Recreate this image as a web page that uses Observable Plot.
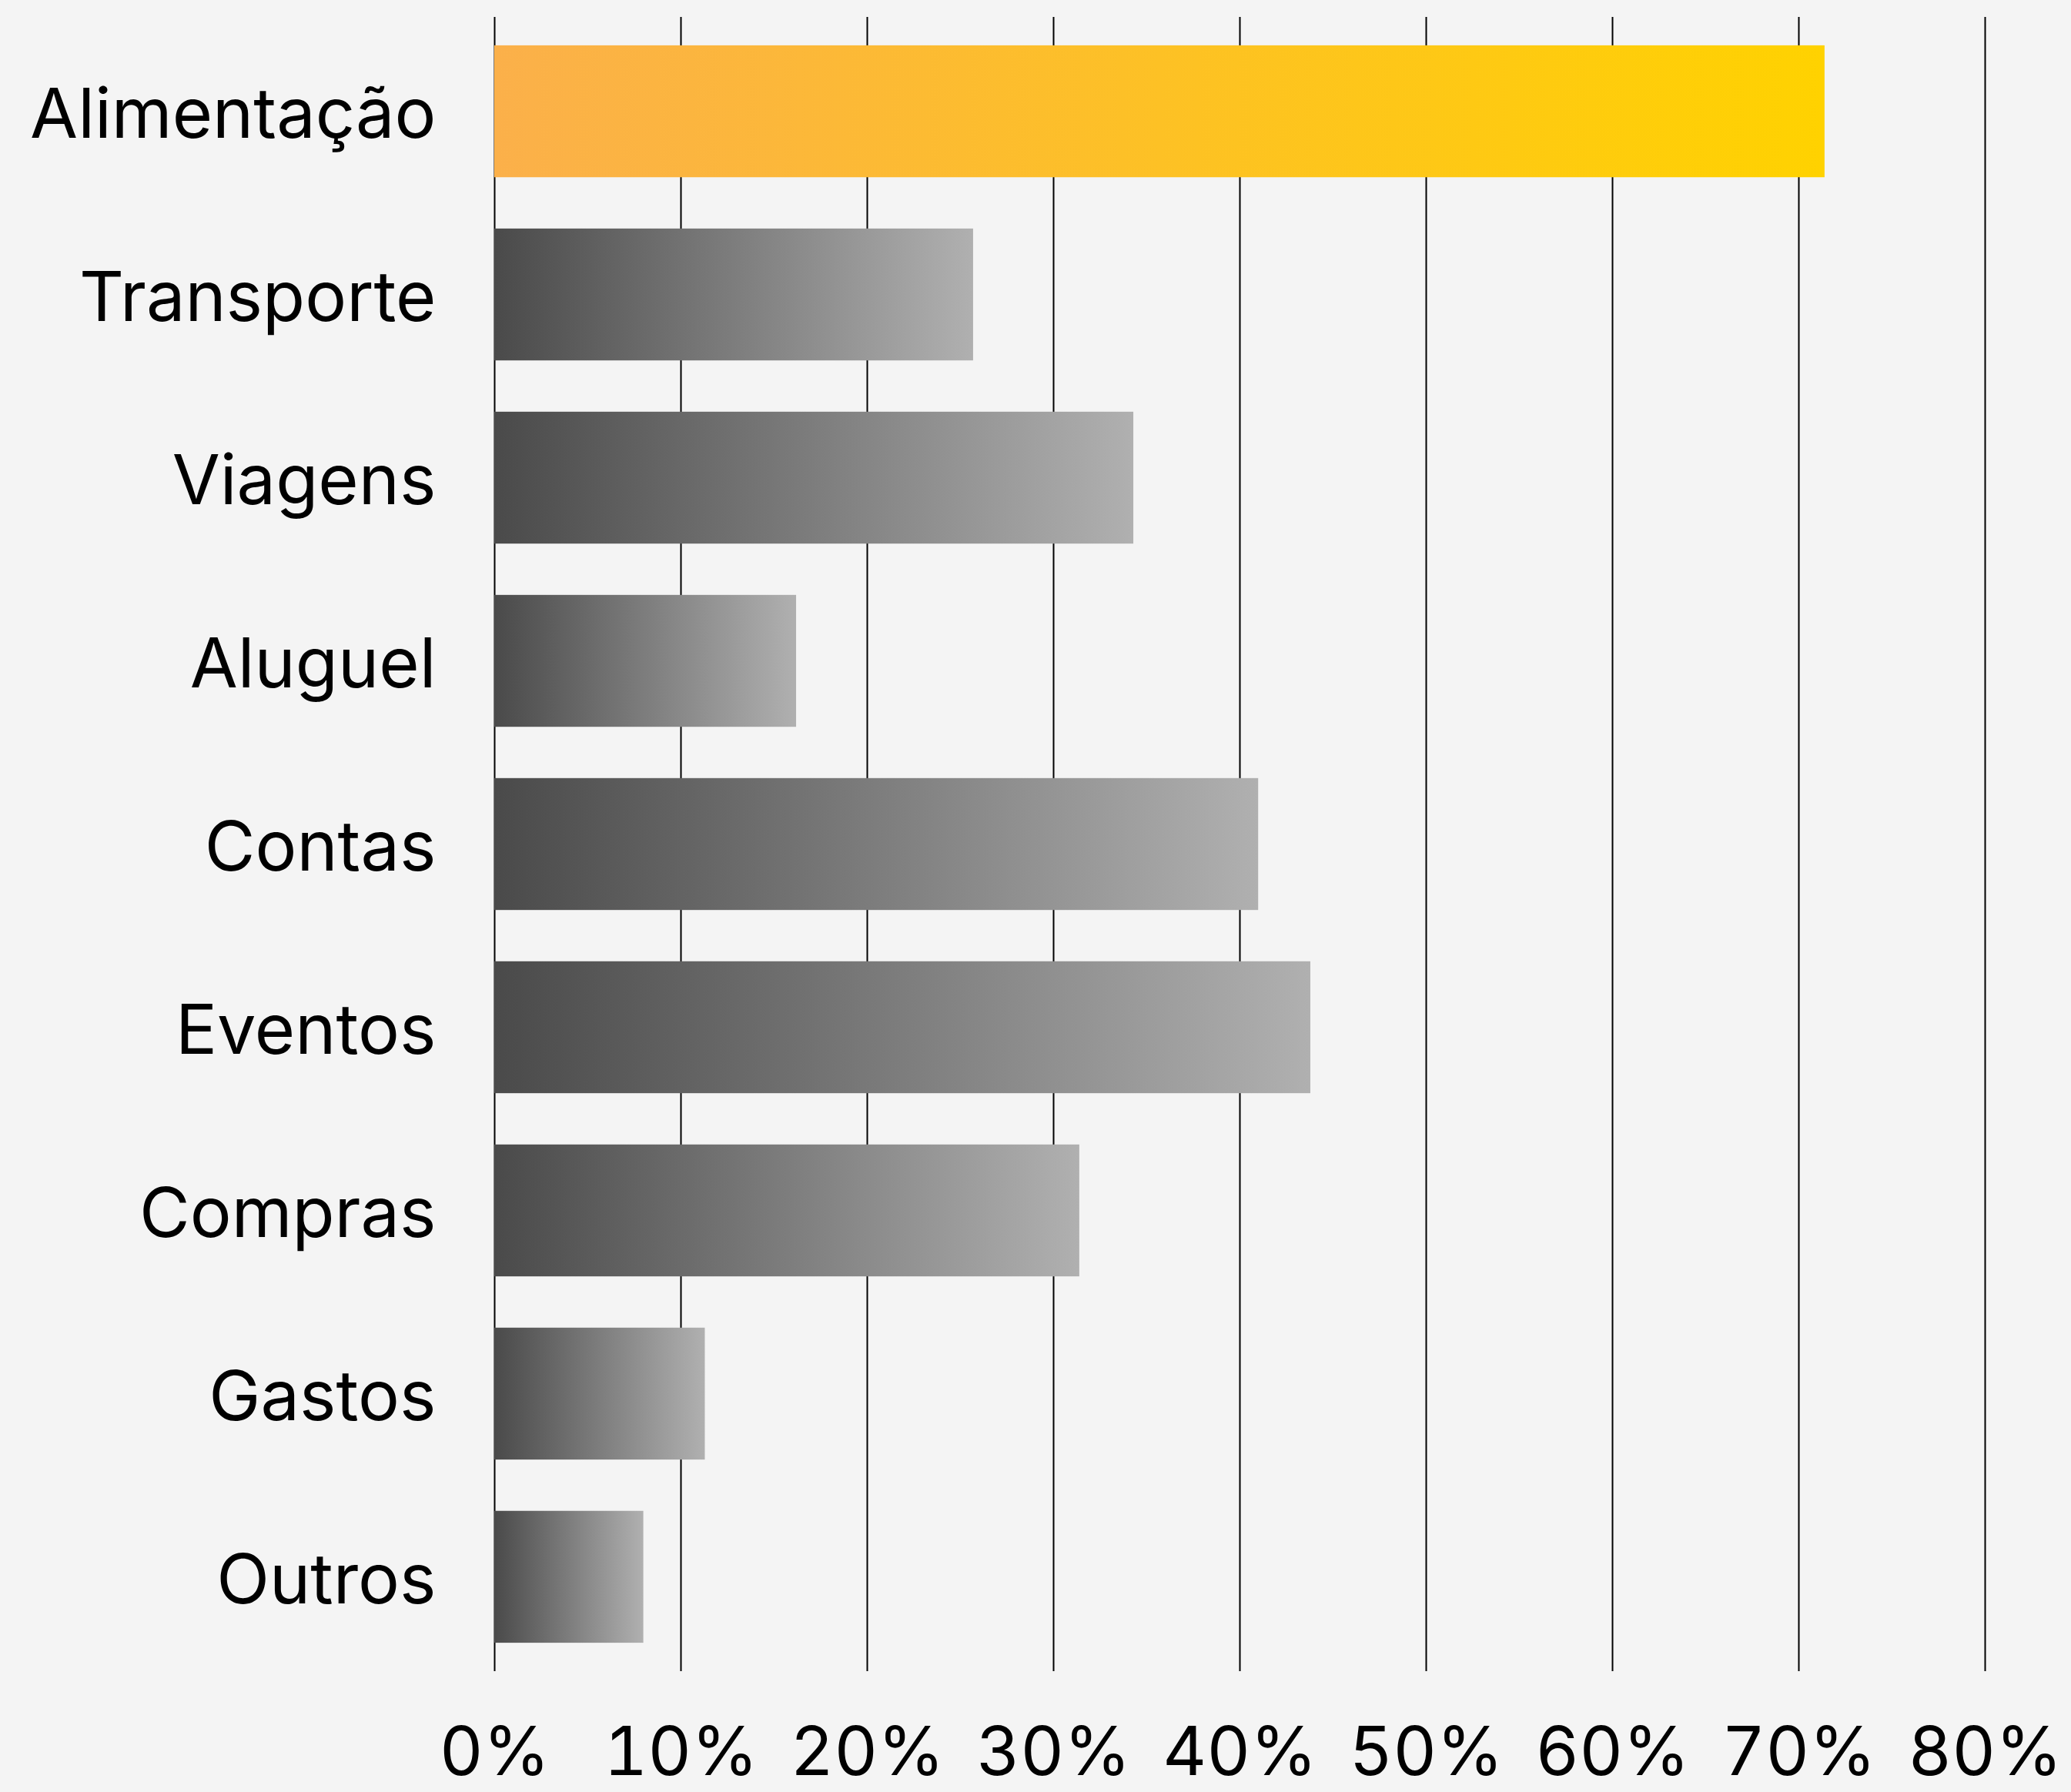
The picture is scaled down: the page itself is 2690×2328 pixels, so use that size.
<!DOCTYPE html>
<html>
<head>
<meta charset="utf-8">
<script src="https://cdn.jsdelivr.net/npm/d3@7"></script>
<script src="https://cdn.jsdelivr.net/npm/@observablehq/plot@0.6"></script>
<style>
  html, body { margin: 0; padding: 0; background: #f4f4f4; }
  #chart svg { display: block; }
</style>
</head>
<body>
<div id="chart"></div>
<script>
const categories = ["Alimentação", "Transporte", "Viagens", "Aluguel", "Contas", "Eventos", "Compras", "Gastos", "Outros"];
const values = [71.4, 25.7, 34.3, 16.2, 41.0, 43.8, 31.4, 11.3, 8.0];
const xTicks = [0, 10, 20, 30, 40, 50, 60, 70, 80];
const highlight = "Alimentação";

const data = categories.map((c, i) => ({category: c, value: values[i]}));

const chart = Plot.plot({
  width: 2690,
  height: 2328,
  marginLeft: 642,
  marginRight: 112,
  marginTop: 22,
  marginBottom: 157,
  style: {background: "transparent", fontFamily: "Inter, 'Noto Sans', sans-serif", fontSize: "88px", color: "#000"},
  x: {domain: [0, 80]},
  y: {domain: categories, paddingInner: 0.28, paddingOuter: 0.155, round: false},
  marks: [
    Plot.gridX(xTicks, {stroke: "#000", strokeOpacity: 1, strokeWidth: 2}),
    Plot.barX(data.filter(d => d.category !== highlight), {x: "value", y: "category", fill: "url(#grayGrad)"}),
    Plot.barX(data.filter(d => d.category === highlight), {x: "value", y: "category", fill: "url(#goldGrad)"}),
    Plot.axisX(xTicks, {tickSize: 0, tickPadding: 72, tickFormat: d => d + "%", label: null, fontSize: 88}),
    Plot.axisY({tickSize: 0, tickPadding: 76, dy: 5, label: null, fontSize: 90})
  ]
});

const defs = d3.select(chart).insert("defs", ":first-child");
const g1 = defs.append("linearGradient").attr("id", "grayGrad").attr("x1", "0").attr("x2", "1").attr("y1", "0").attr("y2", "0");
g1.append("stop").attr("offset", "0%").attr("stop-color", "#4a4a4a");
g1.append("stop").attr("offset", "100%").attr("stop-color", "#b0b0b0");
const g2 = defs.append("linearGradient").attr("id", "goldGrad").attr("x1", "0").attr("x2", "1").attr("y1", "0").attr("y2", "0");
g2.append("stop").attr("offset", "0%").attr("stop-color", "#fbb04a");
g2.append("stop").attr("offset", "100%").attr("stop-color", "#ffd200");

document.getElementById("chart").appendChild(chart);
</script>
</body>
</html>
